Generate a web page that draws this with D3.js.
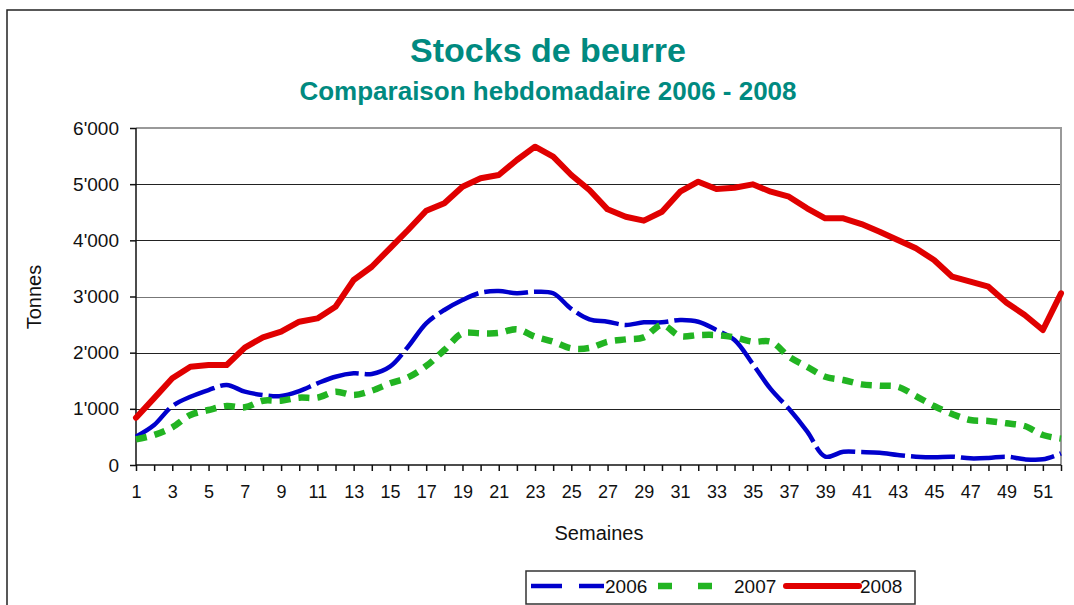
<!DOCTYPE html>
<html>
<head>
<meta charset="utf-8">
<script src="https://cdn.jsdelivr.net/npm/d3@7"></script>
<style>
  body { margin: 0; background: #fff; }
  svg { display: block; font-family: "Liberation Sans", Arial, sans-serif; }
</style>
</head>
<body>
<div id="chart"></div>
<script>
// weekly butter stocks, tonnes
var weeks = d3.range(1, 53);
var s2006 = [504, 712, 1050, 1216, 1335, 1424, 1305, 1246, 1228, 1317, 1454, 1572, 1632, 1620, 1750, 2106,
  2522, 2760, 2937, 3068, 3098, 3057, 3085, 3057, 2780, 2594, 2551, 2493, 2540, 2540, 2581, 2551,
  2403, 2225, 1800, 1350, 1000, 600, 150, 235, 230, 219, 178, 148, 136, 148, 118, 125, 148, 101, 101, 207];
var s2007 = [457, 534, 671, 890, 979, 1050, 1027, 1145, 1145, 1199, 1199, 1305, 1246, 1323, 1454, 1561,
  1763, 2047, 2344, 2344, 2350, 2416, 2284, 2195, 2077, 2083, 2195, 2237, 2273, 2493, 2296, 2314,
  2314, 2273, 2195, 2195, 1929, 1750, 1572, 1513, 1436, 1412, 1394, 1228, 1050, 908, 801, 783, 742, 694, 534, 470];
var s2008 = [842, 1190, 1543, 1750, 1780, 1780, 2090, 2273, 2373, 2551, 2610, 2818, 3294, 3530, 3858, 4184,
  4527, 4660, 4955, 5104, 5163, 5430, 5667, 5489, 5163, 4896, 4552, 4420, 4350, 4510, 4866, 5044,
  4914, 4937, 4997, 4866, 4777, 4570, 4392, 4392, 4290, 4154, 4006, 3858, 3650, 3352, 3263, 3174, 2889, 2670, 2403, 3057];
var yTicks = [0, 1000, 2000, 3000, 4000, 5000, 6000];
var seriesNames = ["2006", "2007", "2008"];

var width = 1074, height = 605;
var teal = "#008a80";
var fmt = function(v) { return v === 0 ? "0" : d3.format(",")(v).replace(",", "'"); };

var svg = d3.select("#chart").append("svg")
  .attr("width", width).attr("height", height);

// outer frame (cut off at right and bottom)
svg.append("rect")
  .attr("x", 7).attr("y", 10).attr("width", 1200).attr("height", 800)
  .attr("fill", "none").attr("stroke", "#222").attr("stroke-width", 1.5);

svg.append("text").attr("x", 548).attr("y", 62).attr("text-anchor", "middle")
  .attr("font-size", 34).attr("font-weight", "bold").attr("fill", teal)
  .text("Stocks de beurre");
svg.append("text").attr("x", 548).attr("y", 100).attr("text-anchor", "middle")
  .attr("font-size", 26).attr("font-weight", "bold").attr("fill", teal)
  .text("Comparaison hebdomadaire 2006 - 2008");

var x = d3.scaleLinear().domain([1, 52]).range([136, 1061]);
var y = d3.scaleLinear().domain([0, 6000]).range([465, 128]);

// gridlines
svg.append("g").selectAll("line").data(yTicks.filter(function(d) { return d > 0 && d < 6000; }))
  .enter().append("line")
  .attr("x1", x(1)).attr("x2", x(52))
  .attr("y1", function(d) { return Math.round(y(d)) + 0.5; })
  .attr("y2", function(d) { return Math.round(y(d)) + 0.5; })
  .attr("stroke", function(d) { return d === 3000 ? "#777" : "#222"; }).attr("stroke-width", 1);

// plot area border top/right
svg.append("path")
  .attr("d", "M" + x(1) + "," + y(6000) + "H" + x(52) + "V" + y(0))
  .attr("fill", "none").attr("stroke", "#999").attr("stroke-width", 2);

var yAxis = svg.append("g").attr("transform", "translate(" + x(1) + ",0)")
  .call(d3.axisLeft(y).tickValues(yTicks).tickFormat(fmt).tickSize(6).tickPadding(11));
var xAxis = svg.append("g").attr("transform", "translate(0," + y(0) + ")")
  .call(d3.axisBottom(x).tickValues(weeks).tickSize(6).tickPadding(14)
    .tickFormat(function(d) { return d % 2 === 1 ? d : ""; }));
[yAxis, xAxis].forEach(function(a) {
  a.selectAll("path, line").attr("stroke", "#111").attr("stroke-width", 1.5);
  a.selectAll("text").attr("fill", "#111").attr("font-family", "Liberation Sans, Arial, sans-serif");
});
yAxis.selectAll("text").attr("font-size", 19);
xAxis.selectAll("text").attr("font-size", 18);
yAxis.select(".domain").attr("d", "M0," + y(6000) + "V" + y(0));
xAxis.select(".domain").attr("d", "M" + x(1) + ",0H" + x(52));

svg.append("text").attr("transform", "translate(41,297) rotate(-90)")
  .attr("text-anchor", "middle").attr("font-size", 20).attr("fill", "#111").text("Tonnes");
svg.append("text").attr("x", 599).attr("y", 540)
  .attr("text-anchor", "middle").attr("font-size", 20).attr("fill", "#111").text("Semaines");

var smooth = d3.line().x(function(d, i) { return x(weeks[i]); }).y(function(d) { return y(d); })
  .curve(d3.curveCatmullRom.alpha(0.5));
var straight = d3.line().x(function(d, i) { return x(weeks[i]); }).y(function(d) { return y(d); });

var styles = [
  { data: s2006, color: "#0000cc", w: 4.5, dash: "44,6", gen: smooth, legendDash: "31,17" },
  { data: s2007, color: "#22b422", w: 6.5, dash: "11,8", gen: smooth, legendDash: "14,26" },
  { data: s2008, color: "#e00000", w: 6, dash: null, gen: straight, legendDash: null }
];

svg.append("g").selectAll("path").data(styles).enter().append("path")
  .attr("d", function(s) { return s.gen(s.data); })
  .attr("fill", "none")
  .attr("stroke", function(s) { return s.color; })
  .attr("stroke-width", function(s) { return s.w; })
  .attr("stroke-dasharray", function(s) { return s.dash; })
  .attr("stroke-linejoin", "round")
  .attr("stroke-linecap", function(s) { return s.dash ? "butt" : "round"; });

// legend
var legend = svg.append("g");
legend.append("rect").attr("x", 526).attr("y", 571).attr("width", 389).attr("height", 33)
  .attr("fill", "#fff").attr("stroke", "#333").attr("stroke-width", 1.5);
var legX = [531, 658, 786];
styles.forEach(function(s, i) {
  legend.append("line")
    .attr("x1", legX[i]).attr("x2", legX[i] + 73)
    .attr("y1", 586).attr("y2", 586)
    .attr("stroke", s.color).attr("stroke-width", s.w)
    .attr("stroke-dasharray", s.legendDash)
    .attr("stroke-linecap", s.dash ? "butt" : "round");
  legend.append("text").attr("x", i === 1 ? legX[i] + 76 : legX[i] + 74).attr("y", 593)
    .attr("font-size", 19).attr("fill", "#111").text(seriesNames[i]);
});
</script>
</body>
</html>
